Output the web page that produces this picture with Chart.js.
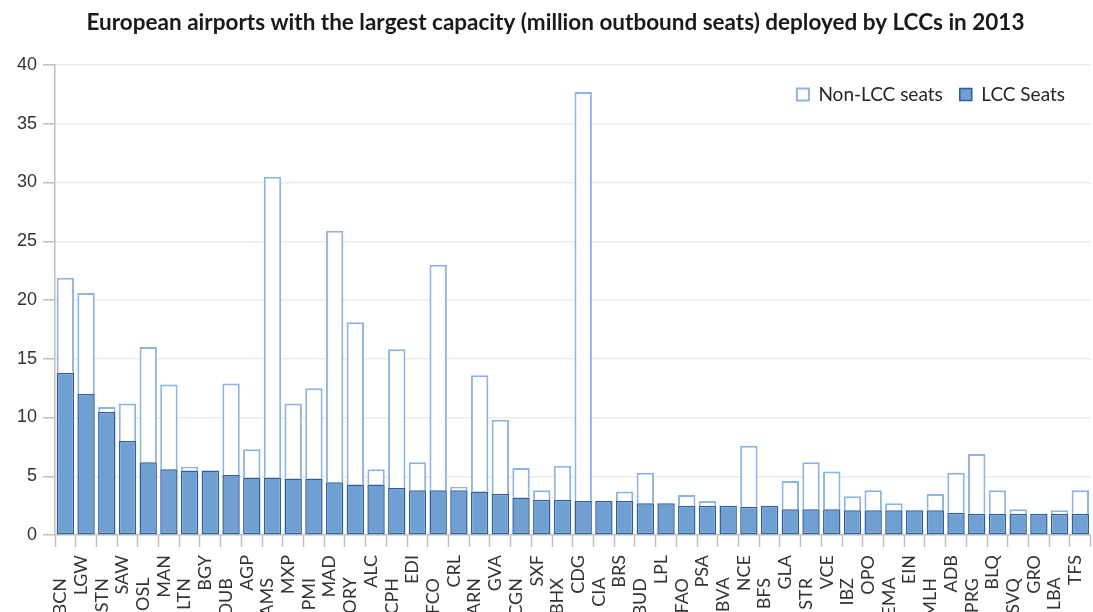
<!DOCTYPE html>
<html>
<head>
<meta charset="utf-8">
<script src="https://cdn.jsdelivr.net/npm/chart.js@4.4.1/dist/chart.umd.min.js"></script>
<style>
  html, body { margin: 0; padding: 0; background: #ffffff; overflow: hidden; }
  #wrap { width: 1110px; height: 640px; }
</style>
</head>
<body>
<div id="wrap"><canvas id="chart" width="1110" height="640"></canvas></div>
<script>
// Airports, ordered by LCC capacity (IATA codes)
const airports = ['BCN','LGW','STN','SAW','OSL','MAN','LTN','BGY','DUB','AGP',
  'AMS','MXP','PMI','MAD','ORY','ALC','CPH','EDI','FCO','CRL',
  'ARN','GVA','CGN','SXF','BHX','CDG','CIA','BRS','BUD','LPL',
  'FAO','PSA','BVA','NCE','BFS','GLA','STR','VCE','IBZ','OPO',
  'EMA','EIN','MLH','ADB','PRG','BLQ','SVQ','GRO','LBA','TFS'];

// Million outbound seats deployed by low-cost carriers
const lccSeats = [13.8, 12.0, 10.5, 8.0, 6.2, 5.6, 5.5, 5.5, 5.1, 4.9,
  4.9, 4.8, 4.8, 4.5, 4.3, 4.3, 4.0, 3.8, 3.8, 3.8,
  3.7, 3.5, 3.2, 3.0, 3.0, 2.9, 2.9, 2.9, 2.7, 2.7,
  2.5, 2.5, 2.5, 2.4, 2.5, 2.2, 2.2, 2.2, 2.1, 2.1,
  2.1, 2.1, 2.1, 1.9, 1.8, 1.8, 1.8, 1.8, 1.8, 1.8];

// Million outbound seats deployed by all other carriers
const nonLccSeats = [8.1, 8.6, 0.4, 3.2, 9.8, 7.2, 0.3, 0.0, 7.8, 2.4,
  25.6, 6.4, 7.7, 21.4, 13.8, 1.3, 11.8, 2.4, 19.2, 0.3,
  9.9, 6.3, 2.5, 0.8, 2.9, 34.8, 0.0, 0.8, 2.6, 0.0,
  0.9, 0.4, 0.0, 5.2, 0.0, 2.4, 4.0, 3.2, 1.2, 1.7,
  0.6, 0.0, 1.4, 3.4, 5.1, 2.0, 0.4, 0.0, 0.3, 2.0];

// Value axis ticks
const yTicks = [0, 5, 10, 15, 20, 25, 30, 35, 40];

const titleText = 'European airports with the largest capacity (million outbound seats) deployed by LCCs in 2013';

const labelFont = { family: 'Lato', size: 18 };

// Every other airport code is pushed further down the axis so neighbours don't collide
const NBSP = '\u00A0';
const measureCtx = document.createElement('canvas').getContext('2d');
measureCtx.font = labelFont.size + 'px ' + labelFont.family;
const spaceW = measureCtx.measureText(NBSP).width || 4;
const stagger = NBSP.repeat(Math.max(1, Math.round(22 / spaceW)));

// Places the legend in the top-right corner of the plot
const legendInPlot = {
  id: 'legendInPlot',
  afterLayout(chart) {
    const lg = chart.legend;
    if (!lg) return;
    const top = chart.chartArea.top + 3;
    lg.top = top;
    lg.height = 50;
    lg.bottom = top + 50;
    lg.left -= 19;
    lg.right -= 19;
  }
};

new Chart(document.getElementById('chart'), {
  type: 'bar',
  data: {
    labels: airports,
    datasets: [
      {
        label: 'LCC Seats',
        data: lccSeats,
        backgroundColor: '#709fd2',
        borderColor: '#2f5e9b',
        borderWidth: 1.5,
        borderSkipped: false,
        categoryPercentage: 1.0,
        barPercentage: 0.84
      },
      {
        label: 'Non-LCC seats',
        data: nonLccSeats,
        backgroundColor: '#ffffff',
        borderColor: '#8db4e3',
        borderWidth: 2,
        categoryPercentage: 1.0,
        barPercentage: 0.84
      }
    ]
  },
  options: {
    responsive: false,
    animation: false,
    devicePixelRatio: 1,
    layout: { padding: { left: 10, right: 9, top: 0, bottom: 0 } },
    plugins: {
      title: {
        display: true,
        text: titleText,
        color: '#1a1a1a',
        font: { family: 'Lato', size: 22.5, weight: 'bold', lineHeight: 1.2 },
        padding: { top: 9, bottom: 19 }
      },
      legend: {
        display: true,
        position: 'top',
        align: 'end',
        reverse: true,
        maxHeight: 10,
        labels: {
          color: '#262626',
          font: { family: 'Lato', size: 19 },
          boxWidth: 12,
          boxHeight: 12,
          padding: 17
        }
      },
      tooltip: { enabled: false }
    },
    scales: {
      x: {
        stacked: true,
        afterFit(scale) { scale.height = 105; },
        grid: {
          display: true,
          drawOnChartArea: false,
          drawTicks: true,
          tickLength: 12,
          tickColor: '#bfbfbf',
          tickWidth: 1.5,
          offset: true
        },
        border: { display: true, color: '#bfbfbf', width: 1.5 },
        ticks: {
          autoSkip: false,
          minRotation: 90,
          maxRotation: 90,
          padding: 8,
          labelOffset: -5,
          color: '#333333',
          font: labelFont,
          callback(value, index) {
            const code = airports[index];
            return index % 2 === 0 ? code + stagger : code;
          }
        }
      },
      y: {
        stacked: true,
        min: 0,
        max: 40,
        afterFit(scale) { scale.width = 45; },
        afterBuildTicks(scale) { scale.ticks = yTicks.map(v => ({ value: v })); },
        grid: {
          color: '#ebebeb',
          lineWidth: 1.5,
          drawTicks: true,
          tickLength: 12,
          tickColor: '#bfbfbf',
          tickWidth: 1.5
        },
        border: { display: true, color: '#bfbfbf', width: 1.5 },
        ticks: {
          padding: 6,
          color: '#333333',
          font: { family: 'Liberation Sans', size: 18 }
        }
      }
    }
  },
  plugins: [legendInPlot]
});
</script>
</body>
</html>
